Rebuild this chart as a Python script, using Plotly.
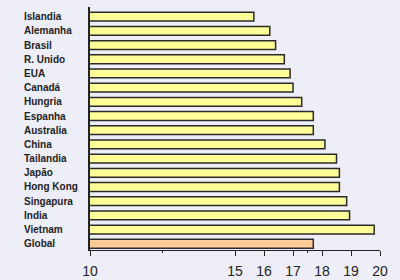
import plotly.graph_objects as go

countries = ["Islandia", "Alemanha", "Brasil", "R. Unido", "EUA", "Canadá", "Hungria",
             "Espanha", "Australia", "China", "Tailandia", "Japão", "Hong Kong",
             "Singapura", "India", "Vietnam", "Global"]
values = [15.65, 16.2, 16.4, 16.7, 16.9, 17.0, 17.3, 17.7, 17.7, 18.1, 18.5, 18.6, 18.6,
          18.85, 18.95, 19.8, 17.7]
tick_vals = [10, 15, 16, 17, 18, 19, 20]
tick_text = ["10", "15", "16", "17", "18", "19", "20"]

BG = "#EEEEF8"
colors = ["#FFFF99"] * (len(countries) - 1) + ["#FFCC99"]

fig = go.Figure()
fig.add_trace(go.Bar(
    y=countries, x=values, base=0, orientation="h",
    marker=dict(color=colors, line=dict(color="#2a2a2a", width=1.5)),
    width=0.62, hoverinfo="skip",
))

for c in countries:
    fig.add_annotation(x=-0.235, xref="paper", y=c, yref="y", text="<b>" + c + "</b>",
                       showarrow=False, xanchor="left",
                       font=dict(family="Liberation Sans", size=10, color="#222222"))

fig.update_layout(
    width=400, height=280,
    margin=dict(l=90, r=20, t=7, b=30),
    paper_bgcolor=BG, plot_bgcolor=BG,
    showlegend=False,
    font=dict(family="Liberation Sans", color="#222222"),
    xaxis=dict(range=[10, 20], tickvals=tick_vals, ticktext=tick_text,
               automargin=False,
               showgrid=False, zeroline=False, showline=True, linecolor="#222222",
               linewidth=1.2, ticks="outside", ticklen=5, tickcolor="#222222",
               ticklabelstandoff=3,
               tickfont=dict(size=14, family="Liberation Sans", color="#222222"),
               minor=dict(tickvals=[12.5, 17.5], ticks="outside", ticklen=2,
                          tickcolor="#222222")),
    yaxis=dict(categoryorder="array", categoryarray=countries, automargin=False,
               range=[16.44, -0.68], showticklabels=False, showgrid=False,
               zeroline=False, showline=True, linecolor="#222222", linewidth=1.5,
               ticks=""),
)

fig.write_html("out.html")
